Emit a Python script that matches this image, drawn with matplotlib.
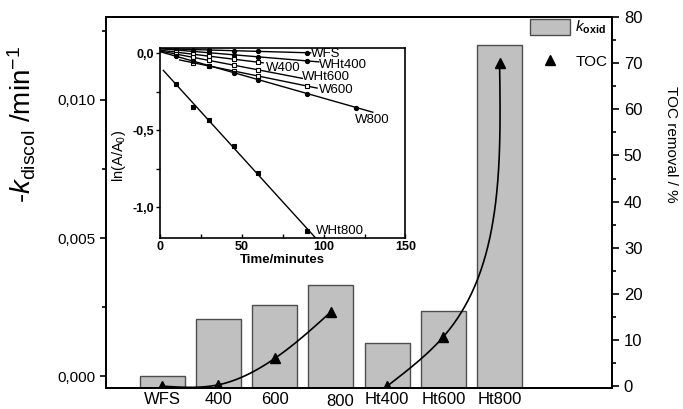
import numpy as np
import matplotlib
matplotlib.use('Agg')
import matplotlib.pyplot as plt
from matplotlib import font_manager
from matplotlib.ticker import MultipleLocator, FuncFormatter
from matplotlib.transforms import ScaledTranslation

plt.rcParams['font.family'] = ['Liberation Sans', 'DejaVu Sans']
plt.rcParams['mathtext.fontset'] = 'custom'
plt.rcParams['mathtext.rm'] = 'Liberation Sans'
plt.rcParams['mathtext.it'] = 'Liberation Sans:italic'
plt.rcParams['mathtext.bf'] = 'Liberation Sans:bold'

names = {f.name for f in font_manager.fontManager.ttflist}
narrow = 'Liberation Sans Narrow' if 'Liberation Sans Narrow' in names else 'Liberation Sans'

# main chart data
samples = ['WFS', '400', '600', '800', 'Ht400', 'Ht600', 'Ht800']
k_oxid = [0.0, 0.00207, 0.00258, 0.0033, 0.0012, 0.00237, 0.0120]
toc_removal = [0.0, 0.3, 6.0, 16.1, 0.0, 10.7, 70.1]
toc_groups = [[0, 1, 2, 3], [4, 5, 6]]

# inset: ln(A/A0) against time
kin_names = ['WFS', 'WHt400', 'W400', 'WHt600', 'W600', 'W800', 'WHt800']
kin_time = [
    [10, 20, 30, 45, 60, 90],
    [10, 20, 30, 45, 60, 90],
    [10, 20, 30, 45, 60],
    [10, 20, 30, 45, 60],
    [20, 30, 45, 60, 90],
    [10, 20, 30, 45, 60, 90, 120],
    [10, 20, 30, 45, 60, 90],
]
kin_lnA = [
    [0.027, 0.024, 0.021, 0.017, 0.012, 0.003],
    [0.021, 0.012, 0.003, -0.010, -0.023, -0.050],
    [0.007, -0.006, -0.019, -0.039, -0.058],
    [-0.006, -0.026, -0.047, -0.077, -0.108],
    [-0.061, -0.083, -0.115, -0.148, -0.213],
    [-0.020, -0.050, -0.081, -0.126, -0.171, -0.262, -0.352],
    [-0.198, -0.346, -0.433, -0.601, -0.776, -1.150],
]
kin_fit_range = [(0, 92), (0, 97), (0, 63), (0, 87), (12, 96), (0, 130), (2, 98)]
kin_label_pos = [(92.5, -0.005), (97, -0.075), (65, -0.095), (87, -0.155),
                 (97, -0.24), (119, -0.43), (95.5, -1.15)]
kin_marker = ['o', 'o', 's', 's', 's', 'o', 's']
kin_face = ['k', 'k', 'w', 'w', 'w', 'k', 'k']


def comma(fmt):
    def f(v, pos):
        s = fmt.format(v)
        if s.startswith('-') and float(s) == 0:
            s = s[1:]
        return s.replace('.', ',')
    return FuncFormatter(f)


def nat_spline(t, y, tt):
    n = len(t)
    h = np.diff(t)
    A = np.zeros((n, n))
    r = np.zeros(n)
    A[0, 0] = A[-1, -1] = 1
    for i in range(1, n - 1):
        A[i, i - 1] = h[i - 1]
        A[i, i] = 2 * (h[i - 1] + h[i])
        A[i, i + 1] = h[i]
        r[i] = 6 * ((y[i + 1] - y[i]) / h[i] - (y[i] - y[i - 1]) / h[i - 1])
    M = np.linalg.solve(A, r)
    idx = np.clip(np.searchsorted(t, tt) - 1, 0, n - 2)
    t0, t1 = t[idx], t[idx + 1]
    hh = t1 - t0
    a = (t1 - tt) / hh
    b = (tt - t0) / hh
    return a * y[idx] + b * y[idx + 1] + ((a**3 - a) * M[idx] + (b**3 - b) * M[idx + 1]) * hh**2 / 6


fig = plt.figure(figsize=(6.83, 4.09), dpi=100)
ax = fig.add_axes([0.1552, 0.0513, 0.7409, 0.9071])
ax2 = ax.twinx()

x = np.arange(len(samples))
ax.set_xlim(-1, 8)
ax.set_ylim(-0.00043, 0.0130)
ymin = ax.get_ylim()[0]
bars = ax.bar(x, np.array(k_oxid) - ymin, bottom=ymin, width=0.8, color='#c0c0c0',
              edgecolor='#4d4d4d', linewidth=1, label=r'$\mathit{k}_{\mathbf{oxid}}$')

ax2.set_ylim(-0.4, 80)
for g in toc_groups:
    pts = ax2.transData.transform(np.column_stack([x[g], np.array(toc_removal)[g]]))
    s = np.concatenate([[0], np.cumsum(np.hypot(*np.diff(pts, axis=0).T))])
    ss = np.linspace(0, s[-1], 200)
    curve = np.column_stack([nat_spline(s, pts[:, 0], ss), nat_spline(s, pts[:, 1], ss)])
    curve = ax2.transData.inverted().transform(curve)
    ax2.plot(curve[:, 0], curve[:, 1], color='k', lw=1.2)
tri, = ax2.plot(x, toc_removal, 'k^', ms=7, ls='none', label='TOC')

for a in (ax, ax2):
    for sp in a.spines.values():
        sp.set_linewidth(1.3)

ax.set_xticks(x)
ax.set_xticklabels(samples, fontsize=12)
ax.tick_params(axis='x', length=0, pad=3)
lab = ax.get_xticklabels()[3]
lab.set_transform(lab.get_transform() + ScaledTranslation(0.09, -0.02, fig.dpi_scale_trans))

ax.yaxis.set_major_locator(MultipleLocator(0.005))
ax.yaxis.set_minor_locator(MultipleLocator(0.0025))
ax.yaxis.set_major_formatter(comma('{:.3f}'))
ax.tick_params(axis='y', which='major', length=4, width=1.2, labelsize=11, direction='out')
ax.tick_params(axis='y', which='minor', length=3, width=1.2, direction='out')
ax.set_ylabel(r'-$\mathit{k}_{\mathrm{discol}}$ /min$^{-1}$', fontsize=20)
ax.yaxis.set_label_coords(-0.135, 0.71)

ax2.yaxis.set_major_locator(MultipleLocator(10))
ax2.yaxis.set_minor_locator(MultipleLocator(5))
ax2.tick_params(axis='y', which='major', length=5, width=1.2, labelsize=12, direction='out')
ax2.tick_params(axis='y', which='minor', length=3, width=1.2, direction='out')
ax2.set_ylabel('TOC removal / %', fontsize=11, rotation=270)
ax2.yaxis.set_label_coords(1.13, 0.656)

ax2.legend([bars, tri], [bars.get_label(), 'TOC'], loc='upper left',
           bbox_to_anchor=(0.838, 0.995), frameon=False, fontsize=11,
           handlelength=2.6, handleheight=1.2, handletextpad=0.35,
           labelspacing=1.1, borderpad=0, borderaxespad=0)

# inset
ins = fig.add_axes([0.2343, 0.4174, 0.3594, 0.4645])
ins.set_zorder(5)
for i, name in enumerate(kin_names):
    t = np.array(kin_time[i])
    v = np.array(kin_lnA[i])
    b, a0 = np.polyfit(t, v, 1)
    tf = np.array(kin_fit_range[i])
    ins.plot(tf, a0 + b * tf, color='k', lw=1.0)
    ins.plot(t, v, kin_marker[i], ms=3, mfc=kin_face[i], mec='k', mew=0.8)
    ins.text(kin_label_pos[i][0], kin_label_pos[i][1], name, family=narrow,
             fontsize=9.5, ha='left', va='center')
ins.set_xlim(0, 150)
ins.set_ylim(-1.2, 0.032)
ins.xaxis.set_major_locator(MultipleLocator(50))
ins.xaxis.set_minor_locator(MultipleLocator(25))
ins.yaxis.set_major_locator(MultipleLocator(0.5))
ins.yaxis.set_minor_locator(MultipleLocator(0.25))
ins.yaxis.set_major_formatter(comma('{:.1f}'))
ins.tick_params(axis='x', which='both', direction='in', length=3, width=1, pad=2)
ins.tick_params(axis='y', which='both', direction='out', length=3, width=1, pad=1)
for lb in ins.get_xticklabels() + ins.get_yticklabels():
    lb.set_family(narrow)
    lb.set_fontweight('bold')
    lb.set_fontsize(9)
for sp in ins.spines.values():
    sp.set_linewidth(1.2)
ins.set_xlabel('Time/minutes', family=narrow, fontweight='bold', fontsize=9.5, labelpad=1)
ins.set_ylabel(r'ln(A/A$_0$)', fontsize=10.5)
ins.yaxis.set_label_coords(-0.13, 0.433)

fig.savefig('out.png', dpi=100)
